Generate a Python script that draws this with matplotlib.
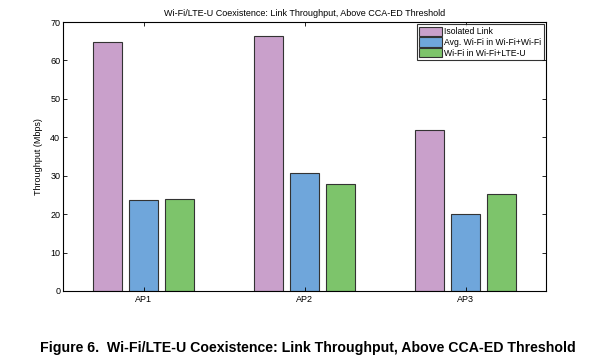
import matplotlib
matplotlib.use("Agg")
import matplotlib.pyplot as plt
import numpy as np

plt.rcParams['font.family'] = ['Liberation Sans', 'DejaVu Sans']

categories = ["AP1", "AP2", "AP3"]
series_names = ["Isolated Link", "Avg. Wi-Fi in Wi-Fi+Wi-Fi", "Wi-Fi in Wi-Fi+LTE-U"]
isolated = [64.8, 66.4, 41.9]
avg_wifi = [23.7, 30.7, 20.1]
wifi_lteu = [24.0, 27.8, 25.3]
colors = ["#C9A0CB", "#6FA6DB", "#7DC46B"]

fig = plt.figure(figsize=(5.93, 3.62), dpi=100)
ax = fig.add_axes([63/593, 1-291/362, (546-63)/593, (291-22)/362])

x = np.arange(1, len(categories) + 1)
width = 0.185
offsets = [-0.224, 0.0, 0.224]
for vals, off, c, name in zip([isolated, avg_wifi, wifi_lteu], offsets, colors, series_names):
    ax.bar(x + off, vals, width, color=c, edgecolor="#333333", linewidth=0.8, label=name)

ax.set_xlim(0.5, 3.5)
ax.set_ylim(0, 70)
ax.set_xticks(x)
ax.set_xticklabels(categories, fontsize=6.5)
ax.set_yticks(np.arange(0, 71, 10))
ax.tick_params(axis='y', labelsize=6.5, direction='in', length=3, right=True, width=0.6, pad=2)
ax.tick_params(axis='x', direction='in', length=3, top=True, width=0.6, pad=3)
for s in ax.spines.values():
    s.set_linewidth(0.8)
ax.set_ylabel("Throughput (Mbps)", fontsize=6.5, labelpad=5)
ax.set_title("Wi-Fi/LTE-U Coexistence: Link Throughput, Above CCA-ED Threshold", fontsize=6.5, pad=4)

leg = ax.legend(loc="upper right", fontsize=6.2, frameon=True, fancybox=False,
                edgecolor="black", handlelength=2.6, handleheight=1.3,
                borderpad=0.3, labelspacing=0.12, handletextpad=0.3,
                borderaxespad=0.25)
leg.get_frame().set_linewidth(0.8)

fig.text(40/593, 1-348/362, "Figure 6.  Wi-Fi/LTE-U Coexistence: Link Throughput, Above CCA-ED Threshold",
         fontsize=10.15, fontweight='bold', va='center', ha='left')

fig.savefig("out.png", dpi=100)
